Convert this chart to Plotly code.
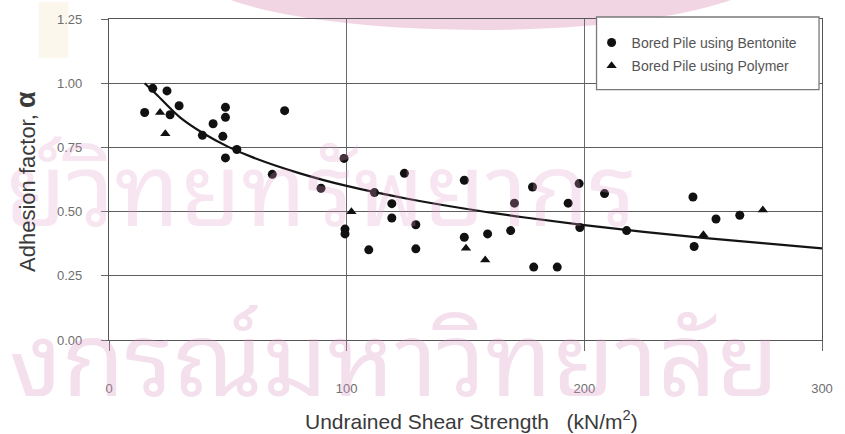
import plotly.graph_objects as go

# ---- data ----
bentonite_x = [15.0, 18.4, 24.4, 25.7, 29.5, 39.3, 43.8, 49.0, 49.0, 47.9, 53.8, 49.0, 68.7, 73.9,
               89.2, 98.9, 111.7, 124.3, 119.0, 119.0, 129.1, 99.3, 99.3, 109.3, 129.1, 149.5,
               178.2, 170.6, 197.8, 193.2, 208.5, 149.5, 159.3, 169.0, 178.7, 188.6, 198.1,
               217.8, 245.7, 246.2, 255.4, 265.4]
bentonite_y = [0.886, 0.980, 0.970, 0.877, 0.912, 0.797, 0.842, 0.906, 0.867, 0.793, 0.742, 0.709,
               0.645, 0.893, 0.591, 0.707, 0.574, 0.649, 0.531, 0.475, 0.449, 0.432, 0.413, 0.351,
               0.355, 0.622, 0.596, 0.533, 0.609, 0.533, 0.570, 0.400, 0.413, 0.426, 0.284, 0.284,
               0.438, 0.426, 0.557, 0.364, 0.471, 0.486]

polymer_x = [21.5, 23.7, 102.0, 150.2, 158.3, 250.1, 275.1]
polymer_y = [0.886, 0.803, 0.499, 0.357, 0.312, 0.410, 0.506]

curve_x = [15, 20, 30, 40, 50, 60, 80, 100, 125, 150, 175, 200, 225, 250, 275, 300]
curve_y = [1.00, 0.956, 0.866, 0.803, 0.753, 0.713, 0.650, 0.600, 0.551, 0.511, 0.477,
           0.447, 0.421, 0.398, 0.377, 0.357]

x_ticks = [0, 100, 200, 300]
y_ticks = [0.00, 0.25, 0.50, 0.75, 1.00, 1.25]

series_names = ["Bored Pile using Bentonite", "Bored Pile using Polymer"]
x_title = "Undrained Shear Strength\u00a0\u00a0 (kN/m<sup>2</sup>)"
y_title = "Adhesion factor, <span style='font-size:27px'><b>α</b></span>"
# visible parts of the scanned watermark
watermark_top = "ย์วิทยทรัพยากร"
watermark_bottom = "งกรณ์มหาวิทยาลัย"

W, H = 845, 434
L, R, T, B = 109, 15, 17, 94
PW, PH = W - L - R, H - T - B


def px(x):
    return (x - L) / PW


def py(y):
    return (H - B - y) / PH


fig = go.Figure()

fig.add_trace(go.Scatter(
    x=curve_x, y=curve_y, mode="lines", line=dict(color="#141414", width=2.2, shape="spline"),
    showlegend=False, hoverinfo="skip"))

fig.add_trace(go.Scatter(
    x=bentonite_x, y=bentonite_y, mode="markers", name=series_names[0],
    legendgroup="a",
    marker=dict(symbol="circle", size=9, color="#111111")))

fig.add_trace(go.Scatter(
    x=polymer_x, y=polymer_y, mode="markers", name=series_names[1],
    legendgroup="b",
    marker=dict(symbol="triangle-up", size=9, color="#111111")))

axis_font = dict(family="Liberation Sans, Arial, sans-serif", size=13, color="#6e6e6e")

fig.update_xaxes(
    range=[0, 300], tickvals=x_ticks, ticktext=[str(v) for v in x_ticks],
    showgrid=True, gridcolor="#6a6a6a", gridwidth=1,
    showline=True, linecolor="#555555", linewidth=1.3, mirror=True,
    ticks="outside", ticklen=10, tickcolor="#666666", tickwidth=1,
    ticklabelstandoff=26, tickfont=axis_font, zeroline=False)

fig.update_yaxes(
    range=[0, 1.25], tickvals=y_ticks, ticktext=[f"{v:.2f}" for v in y_ticks],
    showgrid=True, gridcolor="#5e5e5e", gridwidth=1.3,
    showline=True, linecolor="#555555", linewidth=1.3, mirror=True,
    ticks="outside", ticklen=7, tickcolor="#666666", tickwidth=1.3,
    ticklabelstandoff=16, tickfont=axis_font, zeroline=False)

shapes = [
    # faint crest remnants of the scan watermark
    dict(type="circle", xref="paper", yref="paper",
         x0=px(195), x1=px(775), y0=py(28), y1=py(-90),
         fillcolor="rgba(222,150,185,0.40)", line=dict(width=0), layer="below"),
    dict(type="rect", xref="paper", yref="paper",
         x0=px(38), x1=px(68), y0=py(56), y1=py(0),
         fillcolor="rgba(240,228,190,0.28)", line=dict(width=0), layer="below"),
    dict(type="rect", xref="paper", yref="paper",
         x0=px(602), x1=px(827), y0=py(88), y1=py(15),
         fillcolor="white", line=dict(color="#7a7a7a", width=1.3), layer="above"),
]

wm_font = "Noto Sans Thai Looped, Noto Sans Thai, Loma, Garuda, Noto Sans, sans-serif"
annotations = [
    dict(text=watermark_top, xref="paper", yref="paper", x=px(2), y=py(180),
         xanchor="left", yanchor="middle", showarrow=False,
         font=dict(family=wm_font, size=100, color="rgba(225,160,200,0.26)")),
    dict(text=watermark_bottom, xref="paper", yref="paper", x=px(6), y=py(350),
         xanchor="left", yanchor="middle", showarrow=False,
         font=dict(family=wm_font, size=102, color="rgba(220,150,195,0.30)")),
    dict(text=x_title, xref="paper", yref="paper", x=px(476), y=py(421),
         xanchor="center", yanchor="middle", showarrow=False,
         font=dict(family="Liberation Sans, Arial, sans-serif", size=21, color="#3a3a3a")),
    dict(text=y_title, xref="paper", yref="paper", x=px(25), y=py(180),
         xanchor="center", yanchor="middle", showarrow=False, textangle=-90,
         font=dict(family="Liberation Sans, Arial, sans-serif", size=22, color="#3a3a3a")),
]

fig.update_layout(
    width=W, height=H,
    margin=dict(l=L, r=R, t=T, b=B, pad=0),
    paper_bgcolor="white", plot_bgcolor="white",
    shapes=shapes, annotations=annotations,
    legend=dict(x=px(597), y=py(25), xanchor="left", yanchor="top",
                bgcolor="rgba(0,0,0,0)", borderwidth=0,
                traceorder="grouped", tracegroupgap=2,
                font=dict(family="Liberation Sans, Arial, sans-serif", size=14, color="#555555")),
)

fig.write_html("out.html")
